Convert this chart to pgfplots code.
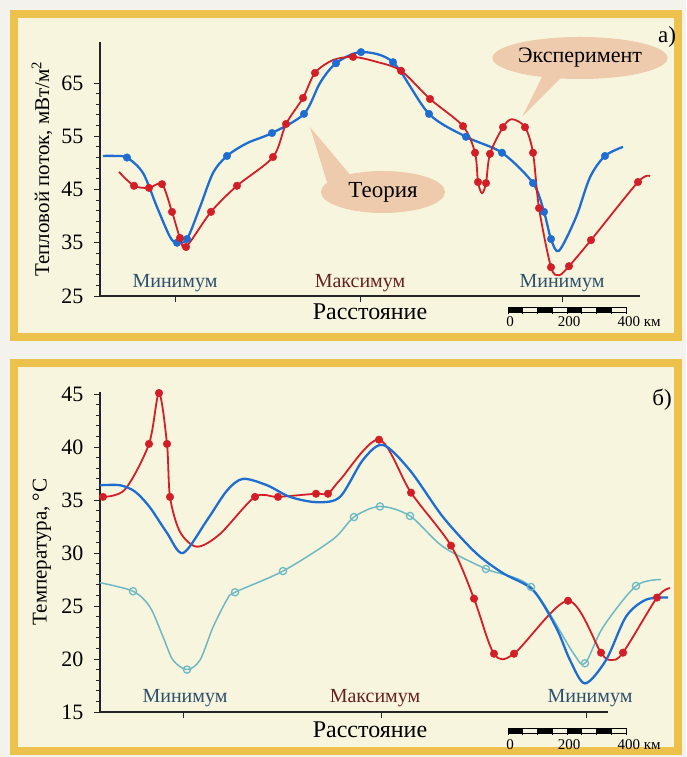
\documentclass[border=0pt]{standalone}
\usepackage{pgfplots}
\pgfplotsset{compat=1.18}
\usetikzlibrary{shapes.geometric}
\usepackage{fontspec}
\setmainfont{Liberation Serif}
\definecolor{pagebg}{RGB}{243,242,236}
\definecolor{cream}{RGB}{248,245,222}
\definecolor{framec}{RGB}{236,194,76}
\definecolor{expred}{RGB}{210,30,38}
\definecolor{thblue}{RGB}{30,110,210}
\definecolor{tcyan}{RGB}{110,185,195}
\definecolor{minc}{RGB}{45,80,110}
\definecolor{maxc}{RGB}{100,35,35}
\definecolor{bubble}{RGB}{238,203,172}
\definecolor{axc}{RGB}{35,35,40}
\newcommand\fs[1]{\fontsize{#1}{#1}\selectfont}
\pgfplotsset{
  panel/.style={
    scale only axis, clip=false,
    axis lines=left, axis line style={-, axc, line width=1.1pt},
    xmin=0,
    tick align=outside, tick style={axc, line width=0.9pt},
    major tick length=6pt, minor tick length=4pt,
    xticklabels={},
    /pgf/number format/assume math mode=true,
    tick label style={font=\fs{22}},
    yticklabel style={xshift=-7pt},
    every axis y label/.style={at={(rel axis cs:0,0.5)}, xshift=-58pt, rotate=90, anchor=center, font=\fs{21}},
  },
  rline/.style={expred, line width=1.8pt, smooth, tension=0.5, no marks},
  bline/.style={thblue, line width=2.3pt, smooth, tension=0.5, no marks},
  cline/.style={tcyan, line width=1.5pt, smooth, tension=0.5, no marks},
  rmark/.style={only marks, mark=*, mark size=3.8pt, mark options={fill=expred, draw=expred}},
  bmark/.style={only marks, mark=*, mark size=3.8pt, mark options={fill=thblue, draw=thblue}},
  cmark/.style={only marks, mark=o, mark size=3.6pt, mark options={fill=cream, draw=tcyan, line width=1.3pt}},
}
\begin{document}
\begin{tikzpicture}[x=1pt,y=1pt]
\fill[pagebg] (0,0) rectangle (686,757);
\filldraw[fill=cream, draw=framec, line width=8pt] (14,420) rectangle (678,743);
\filldraw[fill=cream, draw=framec, line width=8pt] (14,6) rectangle (678,394);

% bubbles top panel
\fill[bubble] (542,680) -- (563,681) -- (522,640) -- cycle;
\node[ellipse, fill=bubble, minimum width=150pt, minimum height=42pt, inner sep=0pt, font=\fs{22}] at (580,699) {Эксперимент};
\fill[bubble] (330,565) -- (352,580) -- (310,630) -- cycle;
\node[ellipse, fill=bubble, minimum width=124pt, minimum height=42pt, inner sep=0pt, font=\fs{23}] at (383,565) {Теория};

\begin{axis}[panel, at={(100pt,461pt)}, anchor=south west, width=540pt, height=254pt,
  xmax=540, ymin=25, ymax=72.7,
  xtick={75,260,462}, ytick={25,35,45,55,65}, minor y tick num=4,
  ylabel={Тепловой поток, мВт/м\textsuperscript{2}}]
\addplot[bline] coordinates {(3,51.3) (15,51.3) (27,51.0) (43,48.1) (57,41.7) (70,36.1) (77,35.0) (87,35.7) (100,41.7) (113,48.1) (127,51.3) (147,53.7) (172,55.6) (204,59.2) (220,65.0) (236,68.7) (261,70.8) (293,68.9) (329,59.2) (366,54.9) (402,51.9) (433,46.2) (444,40.8) (451,35.7) (459,33.5) (476,39.8) (490,47.3) (505,51.3) (523,53.0)};
\addplot[rline] coordinates {(19,48.3) (34,45.7) (49,45.3) (62,46.0) (72,40.8) (80,35.9) (86,34.2) (111,40.8) (137,45.7) (173,51.1) (186,57.3) (203,62.2) (215,66.9) (233,69.3) (253,69.9) (276,69.0) (301,67.3) (330,62.0) (363,56.9) (375,51.9) (378,46.4) (382,44.3) (386,46.2) (390,51.7) (403,56.7) (412,58.2) (425,56.7) (433,51.9) (439,41.5) (451,30.4) (459,28.9) (469,30.6) (491,35.5) (538,46.4) (550,47.5)};
\addplot[bmark] coordinates {(27,51.0) (77,35.0) (87,35.7) (127,51.3) (172,55.6) (204,59.2) (236,68.7) (261,70.8) (293,68.9) (329,59.2) (366,54.9) (402,51.9) (433,46.2) (444,40.8) (451,35.7) (505,51.3)};
\addplot[rmark] coordinates {(34,45.7) (49,45.3) (62,46.0) (72,40.8) (80,35.9) (86,34.2) (111,40.8) (137,45.7) (173,51.1) (186,57.3) (203,62.2) (215,66.9) (253,69.9) (301,67.3) (330,62.0) (363,56.9) (375,51.9) (378,46.4) (386,46.2) (390,51.7) (403,56.7) (425,56.7) (433,51.9) (439,41.5) (451,30.4) (469,30.6) (491,35.5) (538,46.4)};
\end{axis}

\begin{axis}[panel, at={(100pt,45pt)}, anchor=south west, width=508pt, height=320pt,
  xmax=508, ymin=15, ymax=45.2,
  xtick={83,281,486}, ytick={15,20,...,45}, minor y tick num=4,
  ylabel={Температура, °C}]
\addplot[cline] coordinates {(0,27.2) (33,26.4) (50,24.9) (63,22.1) (73,19.9) (87,19.0) (100,19.9) (113,23.0) (127,25.6) (135,26.3) (183,28.3) (233,31.3) (254,33.4) (280,34.4) (310,33.5) (343,30.6) (386,28.5) (431,26.8) (473,20.6) (485,19.6) (503,23.0) (536,26.9) (561,27.5)};
\addplot[rline] coordinates {(3,35.3) (25,36.0) (49,40.3) (59,45.1) (67,40.3) (70,35.3) (80,32.0) (97,30.6) (120,31.8) (155,35.3) (178,35.3) (216,35.6) (228,35.6) (240,36.9) (279,40.7) (311,35.7) (351,30.7) (374,25.7) (394,20.5) (414,20.5) (468,25.5) (501,20.6) (511,19.9) (523,20.6) (557,25.8) (570,26.7)};
\addplot[bline] coordinates {(0,36.4) (20,36.4) (35,35.8) (50,34.3) (67,31.9) (83,30.0) (107,33.1) (127,35.9) (143,37.0) (167,36.4) (190,35.3) (217,34.8) (240,35.3) (263,38.8) (283,40.2) (310,37.8) (343,33.4) (376,30.0) (403,28.1) (433,26.5) (456,23.0) (470,19.9) (485,17.7) (506,19.9) (526,24.0) (546,25.6) (568,25.8)};
\addplot[cmark] coordinates {(33,26.4) (87,19.0) (135,26.3) (183,28.3) (254,33.4) (280,34.4) (310,33.5) (386,28.5) (431,26.8) (485,19.6) (536,26.9)};
\addplot[rmark] coordinates {(3,35.3) (49,40.3) (59,45.1) (67,40.3) (70,35.3) (155,35.3) (178,35.3) (216,35.6) (228,35.6) (279,40.7) (311,35.7) (351,30.7) (374,25.7) (394,20.5) (414,20.5) (468,25.5) (501,20.6) (523,20.6) (557,25.8)};
\end{axis}

% labels top
\node[font=\fs{20}, text=minc] at (175,474) {Минимум};
\node[font=\fs{20}, text=maxc] at (360,474) {Максимум};
\node[font=\fs{20}, text=minc] at (562,474) {Минимум};
\node[font=\fs{24}] at (370,445) {Расстояние};
\node[font=\fs{23}] at (667,720) {а)};
% labels bottom
\node[font=\fs{20}, text=minc] at (185,59) {Минимум};
\node[font=\fs{20}, text=maxc] at (375,59) {Максимум};
\node[font=\fs{20}, text=minc] at (590,59) {Минимум};
\node[font=\fs{24}] at (370,27) {Расстояние};
\node[font=\fs{23}] at (662,357) {б)};

% scale bars
\foreach \yb/\yl in {445/435, 24/12} {
  \foreach \i in {0,2,4,6} {
    \fill[black] ({508+\i*14.75},\yb) rectangle ({508+(\i+1)*14.75},\yb+5);
  }
  \draw[black, line width=0.7pt] (508,\yb) rectangle (626,\yb+5);
  \foreach \i in {0,...,8} {
    \draw[black, line width=0.7pt] ({508+\i*14.75},\yb-2) -- ({508+\i*14.75},\yb+5);
  }
  \node[font=\fs{15}] at (510,\yl) {0};
  \node[font=\fs{15}] at (569,\yl) {200};
  \node[font=\fs{15}, anchor=west] at (614,\yl) {400 км};
}
\end{tikzpicture}
\end{document}
